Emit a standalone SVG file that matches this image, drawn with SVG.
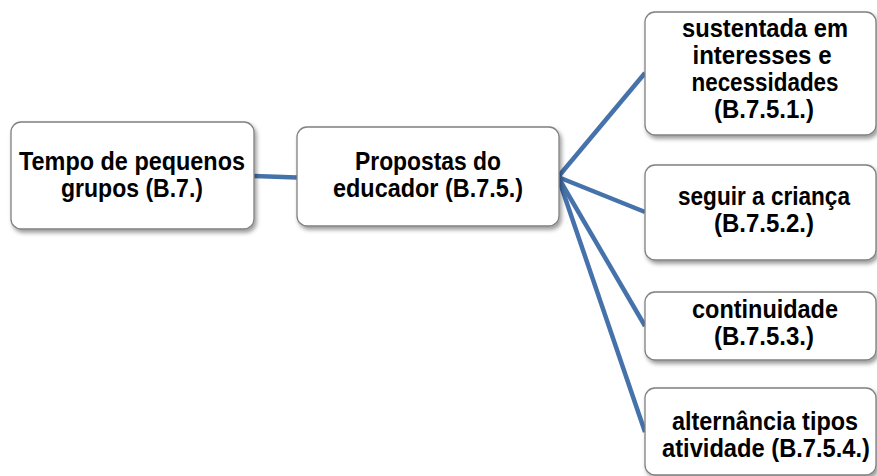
<svg xmlns="http://www.w3.org/2000/svg" width="877" height="476" viewBox="0 0 877 476">
  <style>
    .box { fill: #ffffff; stroke: #808080; stroke-width: 1.3; filter: url(#shadow); }
    .lbl { font-family: "Liberation Sans", Arial, sans-serif; font-weight: bold; font-size: 25px; fill: #000000; text-anchor: middle; }
    .link { stroke: #4672AB; stroke-width: 4.5; fill: none; }
  </style>
  <defs>
    <filter id="shadow" x="-10%" y="-10%" width="125%" height="135%">
      <feDropShadow dx="2" dy="3" stdDeviation="2" flood-color="#000000" flood-opacity="0.4"/>
    </filter>
  </defs>
  <rect width="877" height="476" fill="#ffffff"/>

  <!-- connectors -->
  <g id="connectors">
    <line class="link" x1="254" y1="176" x2="297" y2="177.5"/>
    <line class="link" x1="558" y1="177" x2="645" y2="73"/>
    <line class="link" x1="558" y1="177" x2="645" y2="212"/>
    <line class="link" x1="558" y1="177" x2="645" y2="326"/>
    <line class="link" x1="558" y1="177" x2="645" y2="432"/>
  </g>

  <!-- root: small-group time -->
  <g id="node-b7">
    <rect class="box" x="11" y="122" width="243" height="107" rx="10"/>
    <text class="lbl" x="132" y="170" textLength="226" lengthAdjust="spacingAndGlyphs">Tempo de pequenos</text>
    <text class="lbl" x="132" y="197" textLength="142" lengthAdjust="spacingAndGlyphs">grupos (B.7.)</text>
  </g>

  <!-- educator proposals -->
  <g id="node-b75">
    <rect class="box" x="297" y="127" width="262" height="99" rx="10"/>
    <text class="lbl" x="428" y="170" textLength="146" lengthAdjust="spacingAndGlyphs">Propostas do</text>
    <text class="lbl" x="428" y="197" textLength="190" lengthAdjust="spacingAndGlyphs">educador (B.7.5.)</text>
  </g>

  <g id="node-b751">
    <rect class="box" x="645" y="12" width="231" height="123" rx="10"/>
    <text class="lbl" x="765" y="37" textLength="166" lengthAdjust="spacingAndGlyphs">sustentada em</text>
    <text class="lbl" x="762" y="64" textLength="139" lengthAdjust="spacingAndGlyphs">interesses e</text>
    <text class="lbl" x="765" y="91" textLength="147" lengthAdjust="spacingAndGlyphs">necessidades</text>
    <text class="lbl" x="764" y="118" textLength="100" lengthAdjust="spacingAndGlyphs">(B.7.5.1.)</text>
  </g>

  <g id="node-b752">
    <rect class="box" x="645" y="165" width="231" height="95" rx="10"/>
    <text class="lbl" x="764" y="205" textLength="172" lengthAdjust="spacingAndGlyphs">seguir a criança</text>
    <text class="lbl" x="764" y="232" textLength="100" lengthAdjust="spacingAndGlyphs">(B.7.5.2.)</text>
  </g>

  <g id="node-b753">
    <rect class="box" x="645" y="292" width="231" height="68" rx="10"/>
    <text class="lbl" x="765" y="318" textLength="146" lengthAdjust="spacingAndGlyphs">continuidade</text>
    <text class="lbl" x="764" y="345" textLength="100" lengthAdjust="spacingAndGlyphs">(B.7.5.3.)</text>
  </g>

  <g id="node-b754">
    <rect class="box" x="645" y="388" width="231" height="87" rx="10"/>
    <text class="lbl" x="765" y="430" textLength="186" lengthAdjust="spacingAndGlyphs">alternância tipos</text>
    <text class="lbl" x="766" y="457" textLength="208" lengthAdjust="spacingAndGlyphs">atividade (B.7.5.4.)</text>
  </g>
</svg>
